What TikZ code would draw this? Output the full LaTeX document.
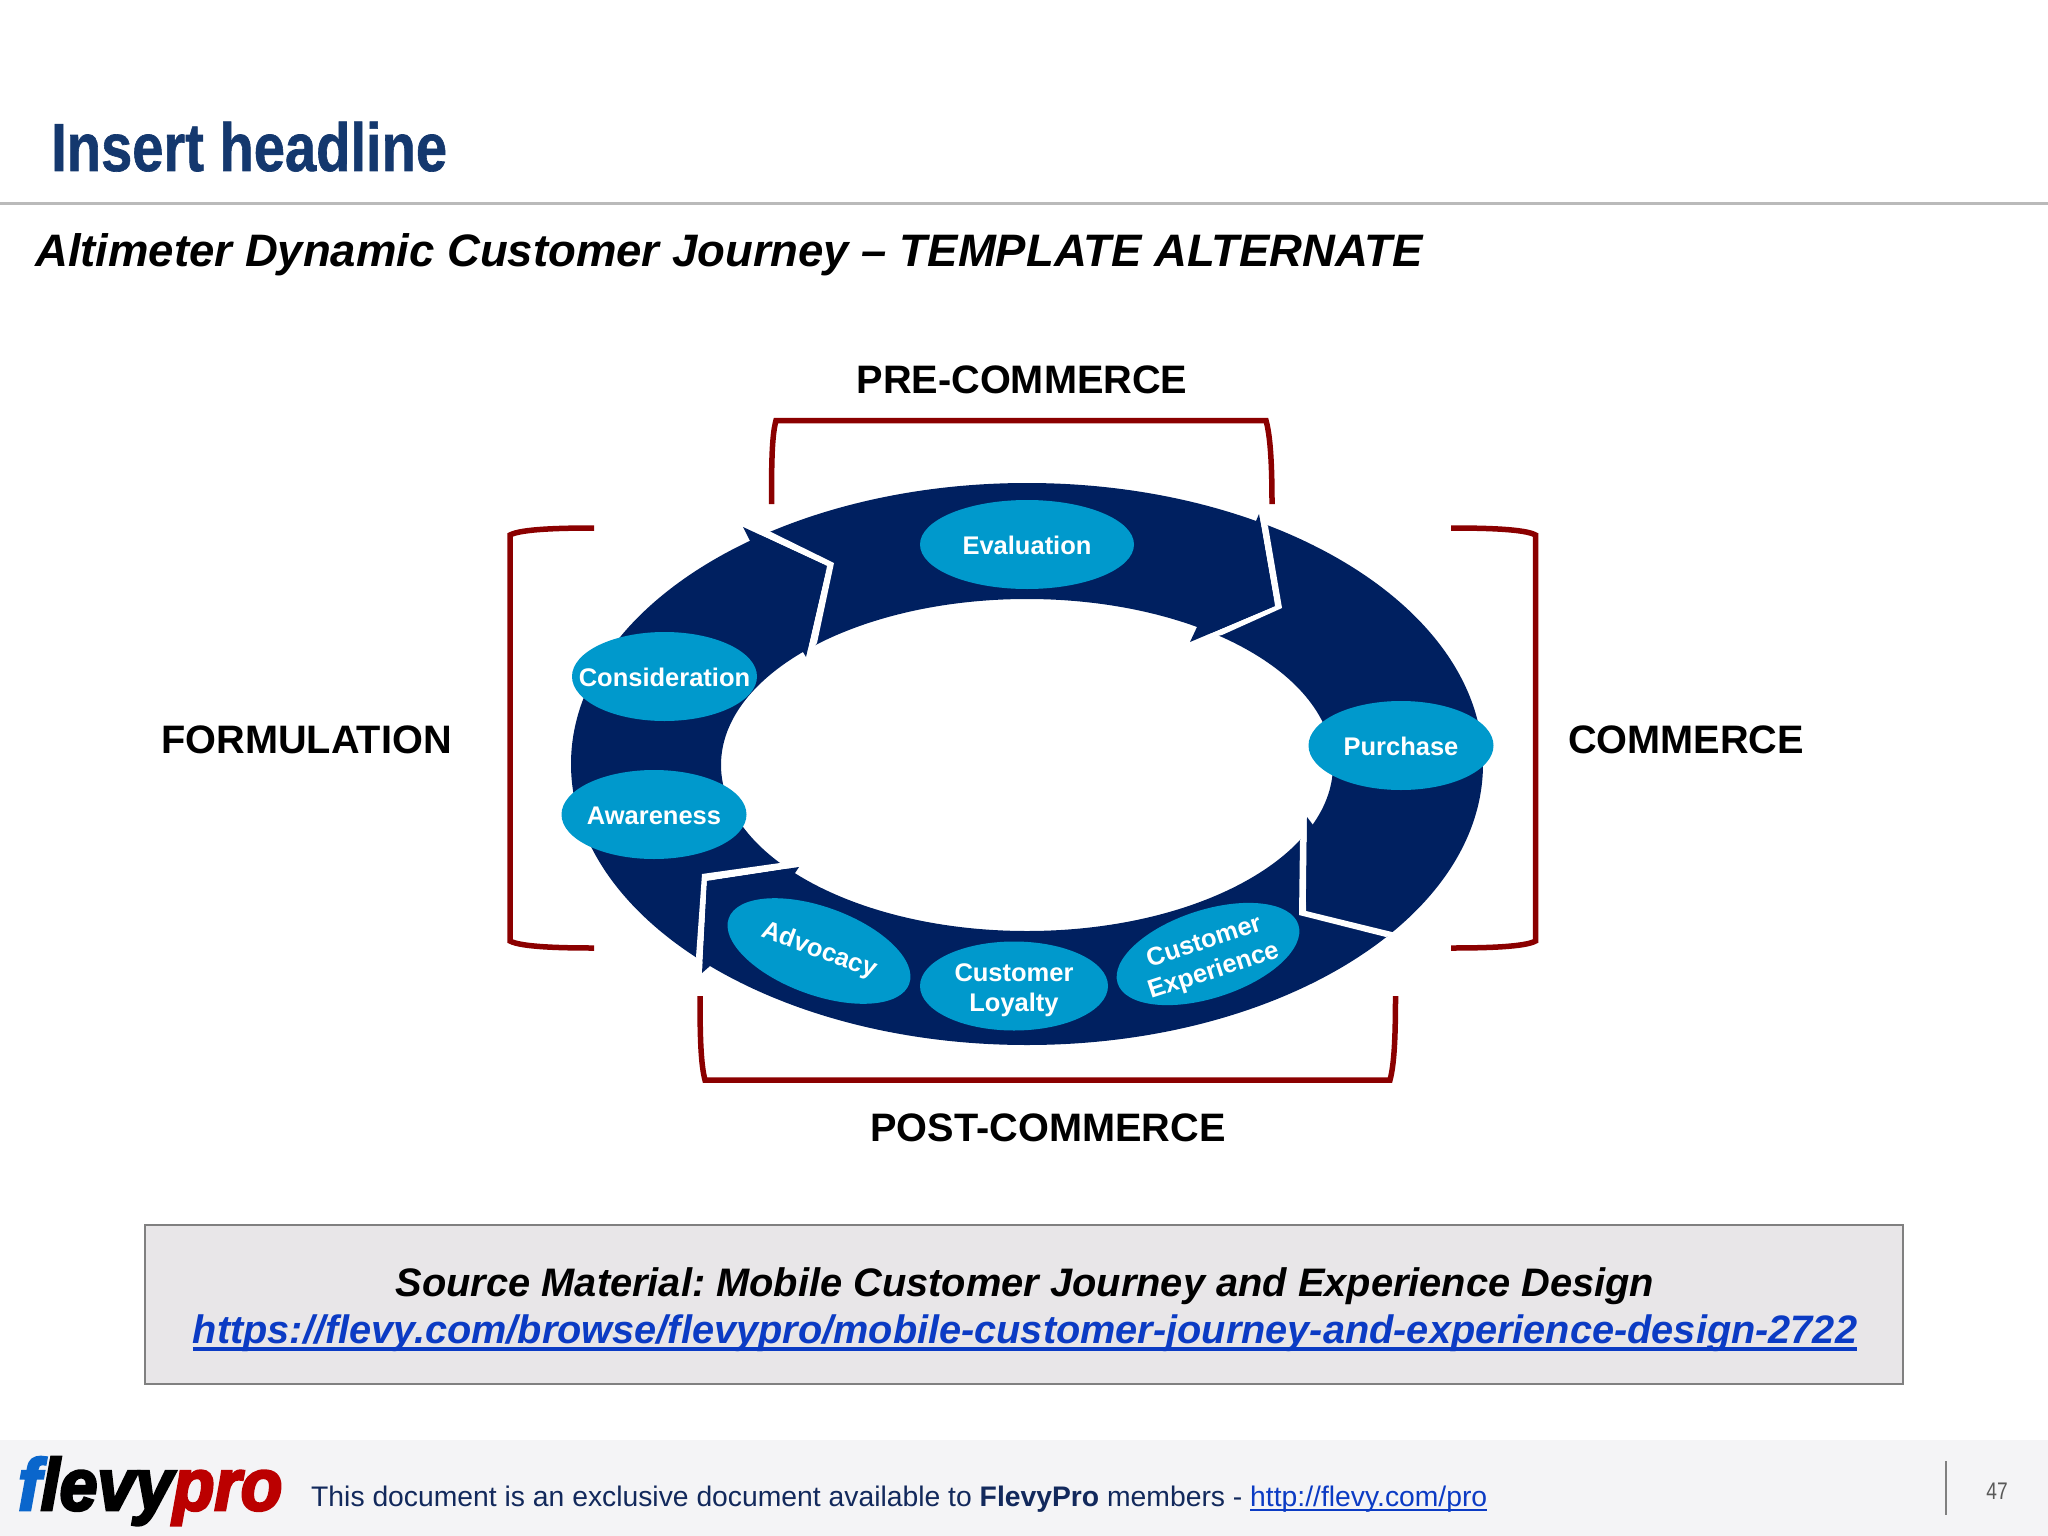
\documentclass[tikz,border=0pt]{standalone}
\usepackage{fontspec}
\setmainfont{Liberation Sans}
\newfontfamily\logofont[FakeBold=4]{Liberation Sans}
\newfontfamily\headfont[FakeBold=1]{Liberation Sans}
\usetikzlibrary{shapes.geometric}
\definecolor{headblue}{HTML}{14386E}
\definecolor{ringblue}{HTML}{002060}
\definecolor{bubbleblue}{HTML}{0099CC}
\definecolor{bracketred}{HTML}{8B0000}
\definecolor{linkblue}{HTML}{0B3BC4}
\definecolor{footgray}{HTML}{F4F4F6}
\definecolor{footnavy}{HTML}{12295C}
\definecolor{boxgray}{HTML}{E8E6E8}
\definecolor{logoblue}{HTML}{0A66CC}
\definecolor{logored}{HTML}{BB0000}
\newcommand{\fsize}[1]{\fontsize{#1}{#1}\selectfont}
\newcommand{\lift}[1]{\rule{0pt}{#1pt}}
\newcommand{\linkline}[3]{\setbox0=\hbox{#3}\rlap{\rule[#1pt]{\wd0}{#2pt}}\box0}

\begin{document}
\frenchspacing
\begin{tikzpicture}[x=1pt,y=-1pt]
	\tikzstyle{bubble}=[ellipse,fill=bubbleblue,text=white,inner xsep=-50pt,inner ysep=0pt,align=center,minimum width=185pt,minimum height=89pt,font=\bfseries\fontsize{25.5}{30.5}\selectfont]
	\tikzstyle{phase}=[inner sep=0pt,font=\bfseries\fsize{39.7}]
	\tikzstyle{gap}=[fill=white]
	\tikzstyle{barb}=[fill=ringblue]
	\tikzstyle{bracket}=[draw=bracketred,line width=5.5pt]
	\useasboundingbox (0,0) rectangle (2048,1536);
	\fill[white] (0,0) rectangle (2048,1536);
	\node[anchor=base west,inner sep=0pt,text=headblue,font=\headfont\bfseries\fsize{68}] (headline) at (51,171) {\scalebox{0.825}[1]{Insert headline}};
	\draw[draw=black!27,line width=3pt] (0,203) -- (2048,203);
	\node[anchor=base west,inner sep=0pt,font=\bfseries\itshape\fsize{45.5}] (subtitle) at (35,266) {Altimeter Dynamic Customer Journey -- TEMPLATE ALTERNATE};

	\fill[ringblue,even odd rule] (1027,764) ellipse [x radius=456,y radius=281] (1027,765) ellipse [x radius=306,y radius=166];
	\fill[gap] (743,527) -- (827,566) -- (806,657) -- (817,643) -- (834,563) -- (771,532) -- cycle;
	\fill[barb] (743,527) -- (827,566) -- (750,541) -- cycle;
	\fill[barb] (806,657) -- (803,652) -- (827,566) -- cycle;
	\fill[gap] (1259,514) -- (1275,606) -- (1190,642) -- (1222,635) -- (1282,608) -- (1268,526) -- cycle;
	\fill[barb] (1259,514) -- (1256,521) -- (1275,606) -- cycle;
	\fill[barb] (1190,642) -- (1197,627) -- (1275,606) -- cycle;
	\fill[gap] (1307,817) -- (1306,911) -- (1396,933) -- (1386,937) -- (1299,915) -- (1300,841) -- cycle;
	\fill[barb] (1307,817) -- (1313,825) -- (1306,911) -- cycle;
	\fill[gap] (799,867) -- (707,881) -- (702,973) -- (696,957) -- (702,874) -- (780,863) -- cycle;
	\fill[barb] (799,867) -- (795,873) -- (707,881) -- cycle;
	\fill[barb] (702,973) -- (710,966) -- (707,881) -- cycle;

	\node[bubble,minimum width=214pt] (evaluation) at (1027,544.5) {\lift{21}Evaluation};
	\node[bubble] (consideration) at (664.5,676.5) {\lift{21}Consideration};
	\node[bubble] (awareness) at (654,814.5) {\lift{21}Awareness};
	\node[bubble] (purchase) at (1401,745.5) {\lift{21}Purchase};
	\node[bubble,minimum width=188pt] (loyalty) at (1014,986) {\lift{26}Customer\\Loyalty};
	\node[bubble,minimum width=192pt,minimum height=88pt,rotate=-20] (advocacy) at (819,951) {Advocacy};
	\node[bubble,minimum width=190pt,minimum height=88pt,rotate=18] (experience) at (1208,954) {\lift{25}Customer\\Experience};

	\draw[bracket] (771.5,504) .. controls (771.5,460) and (772,435) .. (776,420.5) -- (1266,420.5) .. controls (1270,435) and (1272,460) .. (1272,504);
	\draw[bracket] (594,528) .. controls (560,528) and (521,529) .. (510,535) -- (510,941) .. controls (521,947) and (560,948) .. (594,948);
	\draw[bracket] (1451,528) .. controls (1485,528) and (1525,529) .. (1535.5,535) -- (1535.5,941) .. controls (1525,947) and (1485,948) .. (1451,948);
	\draw[bracket] (700,996) .. controls (700,1040) and (701,1065) .. (705,1080) -- (1390,1080) .. controls (1394,1065) and (1395.5,1040) .. (1395.5,996);

	\node[phase] (precommerce) at (1022,380) {PRE-COMMERCE};
	\node[phase] (formulation) at (306.5,740) {FORMULATION};
	\node[phase] (commerce) at (1686,740) {COMMERCE};
	\node[phase] (postcommerce) at (1048,1128) {POST-COMMERCE};

	\draw[draw=black!50,fill=boxgray,line width=2pt] (145,1225) rectangle (1903,1384);
	\node[anchor=base,inner sep=0pt,font=\bfseries\itshape\fsize{39.8}] (source) at (1025,1296) {Source Material: Mobile Customer Journey and Experience Design};
	\node[anchor=base,inner sep=0pt,text=linkblue,font=\bfseries\itshape\fsize{39.7}] (sourcelink) at (1025,1343) {\linkline{-7.5}{3.5}{https://flevy.com/browse/flevypro/mobile-customer-journey-and-experience-design-2722}};

	\fill[footgray] (0,1440) rectangle (2048,1536);
	\node[anchor=base west,inner sep=0pt,font=\logofont\bfseries\itshape\fsize{73}] (logo) at (18,1510) {\scalebox{0.93}[1]{\textcolor{logoblue}{f}\textcolor{black}{levy}\textcolor{logored}{pro}}};
	\node[anchor=base west,inner sep=0pt,text=footnavy,font=\fsize{28.3}] (notice) at (311,1506) {This document is an exclusive document available to \textbf{FlevyPro} members - \textcolor{linkblue}{\linkline{-5}{2.5}{http://flevy.com/pro}}};
	\draw[draw=black!50,line width=2pt] (1946,1461) -- (1946,1515);
	\node[inner sep=0pt,text=black!65,font=\fsize{24}] (pagenum) at (1997,1491) {\scalebox{0.8}[1]{47}};
\end{tikzpicture}
\end{document}
